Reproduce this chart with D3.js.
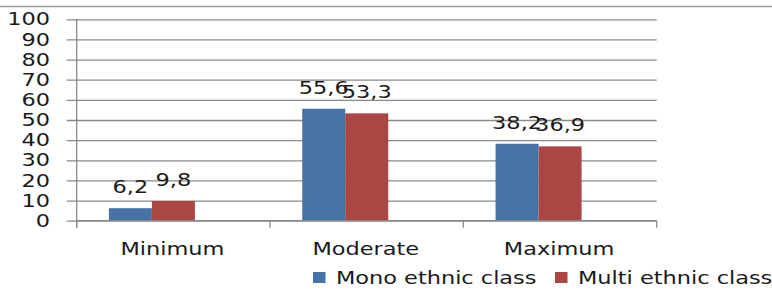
<!DOCTYPE html>
<html>
<head>
<meta charset="utf-8">
<script src="https://cdn.jsdelivr.net/npm/d3@7"></script>
<style>
  html, body { margin: 0; padding: 0; background: #fff; }
  svg { display: block; }
  text { font-family: "DejaVu Sans", sans-serif; font-size: 17px; fill: #1a1a1a; }
</style>
</head>
<body>
<svg id="chart" width="772" height="291"></svg>
<script>
const categories = ["Minimum", "Moderate", "Maximum"];
const seriesNames = ["Mono ethnic class", "Multi ethnic class"];
const monoValues = [6.2, 55.6, 38.2];
const multiValues = [9.8, 53.3, 36.9];
const valueLabels = [["6,2", "55,6", "38,2"], ["9,8", "53,3", "36,9"]];
const yTicks = [0, 10, 20, 30, 40, 50, 60, 70, 80, 90, 100];
const colors = ["#4572A7", "#AA4643"];

const W = 772, H = 291;
const plot = { left: 76.7, right: 656.7, top: 19.3, bottom: 220.7 };
const stretch = 1.32;
const gridColor = "#8a8a8a";

const svg = d3.select("#chart");

// top border line
svg.append("line").attr("x1", 0).attr("x2", W).attr("y1", 6.5).attr("y2", 6.5)
  .attr("stroke", "#9a9a9a").attr("stroke-width", 1.3);

const y = d3.scaleLinear().domain([0, 100]).range([plot.bottom, plot.top]);
const x = d3.scaleBand().domain(categories).range([plot.left, plot.right]).padding(0);
const xs = d3.scaleBand().domain([0, 1]).range([0, x.bandwidth()])
  .paddingInner(0).paddingOuter(1.248).align(0.3);

// gridlines + tick marks via axis
const yAxis = d3.axisLeft(y).tickValues(yTicks).tickSize(-(plot.right - plot.left)).tickFormat("");
const yg = svg.append("g").attr("transform", `translate(${plot.left},0)`).call(yAxis);
yg.select(".domain").remove();
yg.selectAll(".tick line").attr("stroke", gridColor).attr("stroke-width", 1.3)
  .attr("x1", -10);

// y tick labels (stretched)
svg.append("g").selectAll("g").data(yTicks).join("g")
  .attr("transform", d => `translate(50,${y(d)}) scale(${stretch},1)`)
  .append("text").attr("text-anchor", "end").attr("dy", "0.36em").attr("font-size", 17)
  .text(d => d);

// bars
const series = [monoValues, multiValues];
series.forEach((vals, si) => {
  svg.append("g").selectAll("rect").data(vals).join("rect")
    .attr("x", (d, i) => x(categories[i]) + xs(si))
    .attr("width", xs.bandwidth())
    .attr("y", d => y(d))
    .attr("height", d => y(0) - y(d))
    .attr("fill", colors[si]);
  svg.append("g").selectAll("g").data(vals).join("g")
    .attr("transform", (d, i) => `translate(${x(categories[i]) + xs(si) + xs.bandwidth() / 2},${y(d) - 15}) scale(${stretch},1)`)
    .append("text").attr("text-anchor", "middle")
    .text((d, i) => valueLabels[si][i]);
});

// y axis line
svg.append("line").attr("x1", plot.left).attr("x2", plot.left)
  .attr("y1", plot.top).attr("y2", plot.bottom + 7)
  .attr("stroke", gridColor).attr("stroke-width", 1.3);

// x axis with ticks at band boundaries
const xAxisG = svg.append("g");
xAxisG.append("line").attr("x1", plot.left).attr("x2", plot.right)
  .attr("y1", plot.bottom).attr("y2", plot.bottom).attr("stroke", gridColor).attr("stroke-width", 1.3);
const boundaries = categories.map(c => x(c)).concat([plot.right]);
xAxisG.selectAll("line.tk").data(boundaries).join("line").attr("class", "tk")
  .attr("x1", d => d).attr("x2", d => d)
  .attr("y1", plot.bottom).attr("y2", plot.bottom + 7)
  .attr("stroke", gridColor).attr("stroke-width", 1.3);

// category labels
svg.append("g").selectAll("g").data(categories).join("g")
  .attr("transform", c => `translate(${x(c) + x.bandwidth() / 2 - 1},255) scale(${stretch},1)`)
  .append("text").attr("text-anchor", "middle").text(c => c);

// legend
const legendX = [313, 555];
const lg = svg.append("g").selectAll("g").data(seriesNames).join("g")
  .attr("transform", (d, i) => `translate(${legendX[i]},0)`);
lg.append("rect").attr("x", 0).attr("y", 272).attr("width", 12.5).attr("height", 11)
  .attr("fill", (d, i) => colors[i]);
lg.append("g").attr("transform", `translate(23,284) scale(${stretch},1)`)
  .append("text").text(d => d);
</script>
</body>
</html>
